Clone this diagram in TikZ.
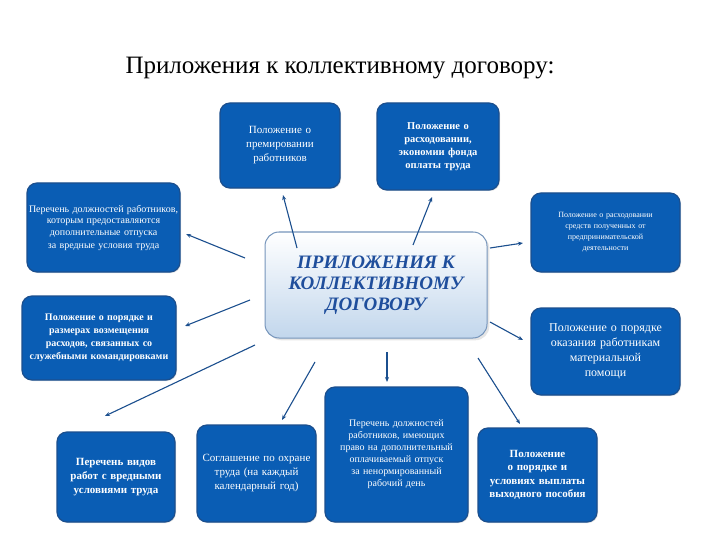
\documentclass[tikz,border=0pt]{standalone}
\usepackage{fontspec}
\setmainfont{Liberation Serif}
\usetikzlibrary{arrows.meta,shadows}
\definecolor{bx}{HTML}{0A5DB4}
\definecolor{bxd}{HTML}{1B4F8E}
\definecolor{ctext}{HTML}{1F4E9C}
\begin{document}
\begin{tikzpicture}[x=1pt,y=-1pt,
  box/.style={draw=bxd,line width=1.2pt,fill=bx,rounded corners=10pt,text=white,align=center,inner sep=2pt,drop shadow={opacity=0.25,shadow xshift=1pt,shadow yshift=-1pt}},
  arr/.style={draw=bxd,line width=1.1pt,-{Stealth[length=5pt,width=4pt]}}]
\useasboundingbox[fill=white] (0,0) rectangle (720,540);
\node[font=\fontsize{25}{28}\selectfont] (title) at (340,68) {Приложения к коллективному договору:};
\newcommand{\bx}[8]{\pgfmathsetmacro{\bw}{#3-#1}\pgfmathsetmacro{\bh}{#4-#2}\pgfmathsetmacro{\tw}{#3-#1-#8}%
\node[box,minimum width=\bw pt,minimum height=\bh pt,text width=\tw pt,font=\fontsize{#5}{#6}\selectfont] (#7) at ({(#1+#3)/2},{(#2+#4)/2})}
\bx{220}{103}{340}{188}{11}{14}{b1}{24} {Положение о премировании работников};
\bx{377}{103}{499}{190}{10.5}{13}{b2}{12} {\textbf{Положение о расходовании, экономии фонда оплаты труда}\\[8pt]};
\bx{27}{183}{180}{272}{10}{12}{b3}{4} {Перечень должностей работников, которым предоставляются дополнительные отпуска за вредные условия труда\\[12pt]};
\bx{531}{193}{680}{272}{8}{11}{b4}{30} {Положение о расходовании средств полученных от предпринимательской деятельности};
\bx{22}{296}{176}{380}{10}{13}{b5}{6} {\textbf{Положение о порядке и размерах возмещения расходов, связанных со служебными командировками}\\[8pt]};
\bx{531}{308}{680}{395}{12}{15}{b6}{36} {Положение о порядке оказания работникам материальной помощи};
\bx{57}{432}{175}{522}{11}{14}{b7}{8} {\textbf{Перечень видов работ с вредными условиями труда}\\[18pt]};
\bx{197}{425}{316}{522}{11}{14}{b8}{10} {Соглашение по охране труда (на каждый календарный год)\\[10pt]};
\bx{325}{387}{468}{522}{10}{12}{b9}{10} {Перечень должностей работников, имеющих право на дополнительный оплачиваемый отпуск за ненормированный рабочий день\\[8pt]};
\bx{478}{428}{597}{522}{11}{13.5}{b10}{20} {\textbf{Положение о порядке и условиях выплаты выходного пособия}};
\node[draw=bxd!60,line width=1pt,rounded corners=14pt,top color=white,bottom color=bx!25,minimum width=222pt,minimum height=106pt,text=ctext,align=center,
  font=\fontsize{19}{21}\selectfont\bfseries\itshape,drop shadow={opacity=0.2}] (c) at (376,285) {ПРИЛОЖЕНИЯ К\\КОЛЛЕКТИВНОМУ\\ДОГОВОРУ};
\coordinate (c1) at (297,248); \coordinate (c2) at (413,245);
\coordinate (c3) at (245,258); \coordinate (c4) at (490,248);
\coordinate (c5) at (250,300); \coordinate (c6) at (490,322);
\coordinate (c7) at (255,345); \coordinate (c8) at (315,362);
\coordinate (c9) at (387,352); \coordinate (c10) at (478,358);
\coordinate (e1) at (283,195); \coordinate (e2) at (432,197);
\coordinate (e3) at (186,234); \coordinate (e4) at (523,243);
\coordinate (e5) at (185,326); \coordinate (e6) at (523,340);
\coordinate (e7) at (105,416); \coordinate (e8) at (282,420);
\coordinate (e9) at (387,382); \coordinate (e10) at (520,424);
\foreach \i in {1,...,10} {\draw[arr] (c\i) -- (e\i);}
\end{tikzpicture}
\end{document}
